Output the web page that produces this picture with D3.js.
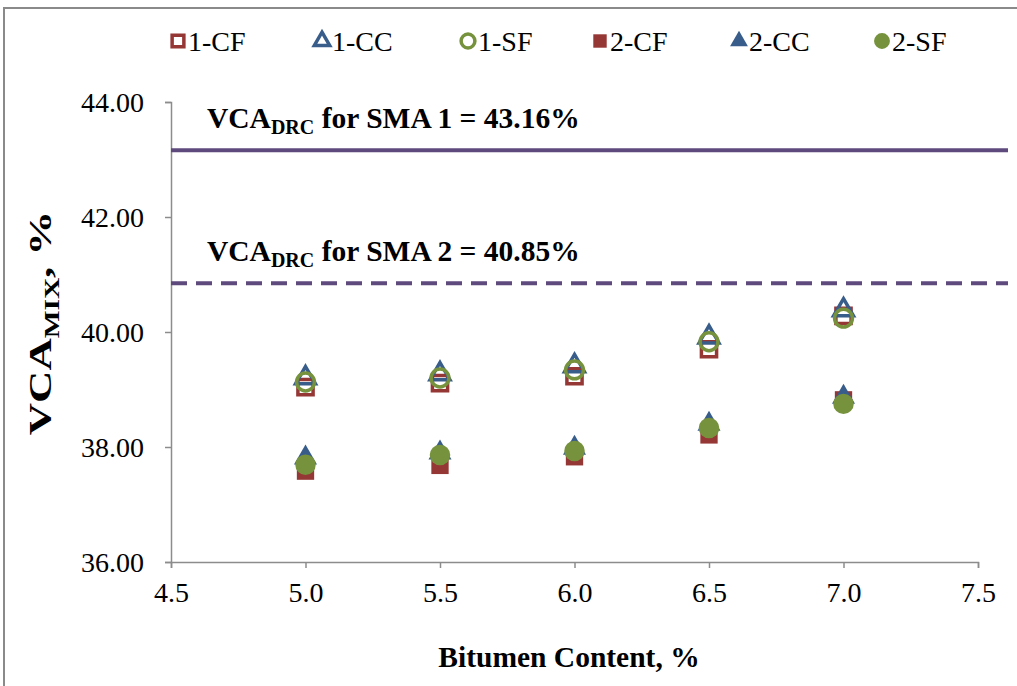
<!DOCTYPE html>
<html>
<head>
<meta charset="utf-8">
<script src="https://cdn.jsdelivr.net/npm/d3@7"></script>
<style>
  body { margin: 0; background: #fff; }
  svg text { font-family: "Liberation Serif", "Times New Roman", serif; }
</style>
</head>
<body>
<svg></svg>
<script>
const width = 1017, height = 686;

// bitumen contents
const bitumen = [5.0, 5.5, 6.0, 6.5, 7.0];

// VCA_MIX values per series
const cf1 = [39.04, 39.11, 39.23, 39.70, 40.28];
const cc1 = [39.20, 39.27, 39.41, 39.91, 40.38];
const sf1 = [39.13, 39.20, 39.34, 39.83, 40.24];
const cf2 = [37.58, 37.68, 37.83, 38.21, 38.82];
const cc2 = [37.81, 37.90, 37.98, 38.40, 38.87];
const sf2 = [37.69, 37.86, 37.93, 38.33, 38.75];

const seriesNames = ["1-CF", "1-CC", "1-SF", "2-CF", "2-CC", "2-SF"];
const xTicks = [4.5, 5.0, 5.5, 6.0, 6.5, 7.0, 7.5];
const yTicks = [36, 38, 40, 42, 44];

const vcaDrc1 = 43.16;
const vcaDrc2 = 40.85;

const red = "#953735", blue = "#385D8A", green = "#76923C", purple = "#5F4A7E";
const serif = "'Liberation Serif', 'Times New Roman', serif";

const series = [
  {name: seriesNames[0], values: cf1, shape: "square", filled: false, color: red},
  {name: seriesNames[1], values: cc1, shape: "triangle", filled: false, color: blue},
  {name: seriesNames[2], values: sf1, shape: "circle", filled: false, color: green},
  {name: seriesNames[3], values: cf2, shape: "square", filled: true, color: red},
  {name: seriesNames[4], values: cc2, shape: "triangle", filled: true, color: blue},
  {name: seriesNames[5], values: sf2, shape: "circle", filled: true, color: green}
];

const svg = d3.select("svg")
    .attr("width", width)
    .attr("height", height);

// outer frame
svg.append("rect")
    .attr("x", 4).attr("y", 8)
    .attr("width", 1040).attr("height", 720)
    .attr("fill", "none")
    .attr("stroke", "#8a8a8a")
    .attr("stroke-width", 2);

const x = d3.scaleLinear().domain([4.5, 7.5]).range([171, 978]);
const y = d3.scaleLinear().domain([36, 44]).range([562, 102]);

const axisColor = "#8c8c8c";

const gx = svg.append("g")
    .attr("transform", "translate(0," + y(36) + ")")
    .call(d3.axisBottom(x).tickValues(xTicks).tickFormat(d3.format(".1f")).tickSize(6).tickPadding(14));

const gy = svg.append("g")
    .attr("transform", "translate(" + x(4.5) + ",0)")
    .call(d3.axisLeft(y).tickValues(yTicks).tickFormat(d3.format(".2f")).tickSize(6).tickPadding(21));

[gx, gy].forEach(function(g) {
    g.attr("font-family", serif).attr("font-size", 28);
    g.select(".domain").attr("stroke", axisColor).attr("stroke-width", 1.5);
    g.selectAll(".tick line").attr("stroke", axisColor).attr("stroke-width", 1.5);
    g.selectAll(".tick text")
        .attr("fill", "#000")
        .style("font-family", serif)
        .style("font-size", "28px");
});
gy.selectAll(".tick text").attr("dy", "0.33em");

// reference lines
svg.append("line")
    .attr("x1", x(4.5)).attr("x2", 1008)
    .attr("y1", y(vcaDrc1)).attr("y2", y(vcaDrc1))
    .attr("stroke", purple).attr("stroke-width", 4);

svg.append("line")
    .attr("x1", x(4.5)).attr("x2", 1008)
    .attr("y1", y(vcaDrc2)).attr("y2", y(vcaDrc2))
    .attr("stroke", purple).attr("stroke-width", 4)
    .attr("stroke-dasharray", "16,9");

function annotate(yPos, label) {
    const t = svg.append("text")
        .attr("x", 207)
        .attr("y", yPos)
        .style("font-family", serif)
        .style("font-weight", "bold")
        .style("font-size", "29.5px");
    t.append("tspan").text("VCA");
    t.append("tspan").text("DRC").attr("dy", 6).style("font-size", "20px");
    t.append("tspan").text(" for SMA " + label).attr("dy", -6);
}
annotate(128, "1 = 43.16%");
annotate(261, "2 = 40.85%");

// markers
function markerType(s) {
    return s.shape === "square" ? d3.symbolSquare : s.shape === "triangle" ? d3.symbolTriangle : d3.symbolCircle;
}
function drawMarker(g, s, scale) {
    const open = !s.filled;
    const base = s.shape === "square" ? (open ? 230 : 300) : s.shape === "triangle" ? (open ? 170 : 230) : (open ? 250 : 330);
    g.append("path")
        .attr("d", d3.symbol().type(markerType(s)).size(base * scale)())
        .attr("fill", open ? "none" : s.color)
        .attr("stroke", s.color)
        .attr("stroke-width", open ? 3.5 : 0);
}

series.forEach(function(s) {
    const g = svg.append("g").attr("class", "series");
    s.values.forEach(function(v, i) {
        const m = g.append("g").attr("transform", "translate(" + x(bitumen[i]) + "," + y(v) + ")");
        drawMarker(m, s, 1);
    });
});

// legend
const legendX = [178, 322, 468, 600, 739, 882];
series.forEach(function(s, i) {
    const m = svg.append("g").attr("transform", "translate(" + legendX[i] + ",41)");
    drawMarker(m, s, 0.6);
    svg.append("text")
        .attr("x", legendX[i] + 10)
        .attr("y", 51)
        .style("font-family", serif)
        .style("font-size", "28px")
        .text(s.name);
});

// axis titles
svg.append("text")
    .attr("x", 569).attr("y", 667)
    .attr("text-anchor", "middle")
    .style("font-family", serif)
    .style("font-weight", "bold")
    .style("font-size", "29.5px")
    .text("Bitumen Content, %");

const yl = svg.append("text")
    .attr("transform", "translate(51,323) rotate(-90) scale(1.4,1)")
    .attr("text-anchor", "middle")
    .style("font-family", serif)
    .style("font-weight", "bold")
    .style("font-size", "32px");
yl.append("tspan").text("VCA");
yl.append("tspan").text("MIX").attr("dy", 8).style("font-size", "21px");
yl.append("tspan").text(", %").attr("dy", -8);
</script>
</body>
</html>
